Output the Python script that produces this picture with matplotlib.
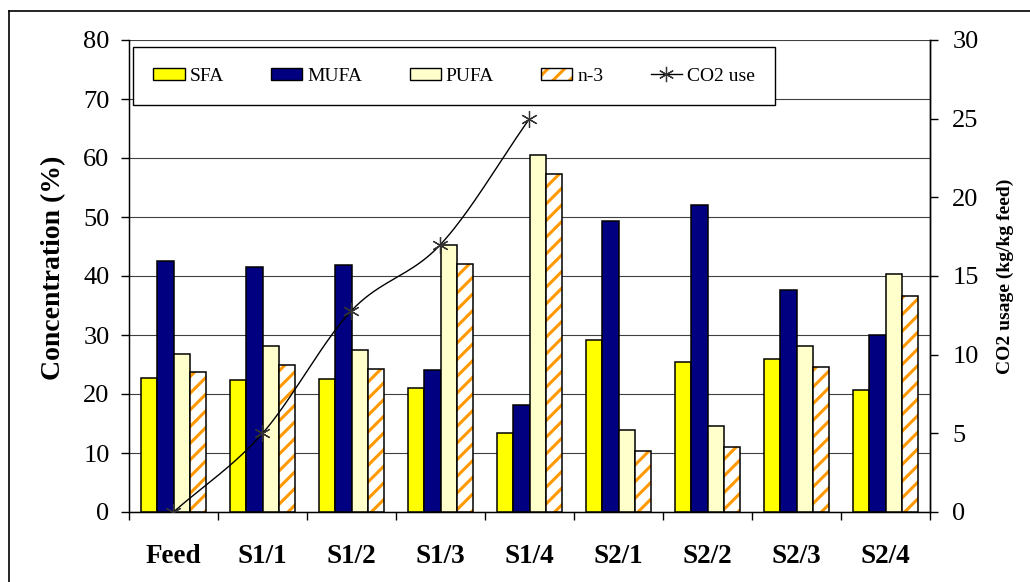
import numpy as np
import matplotlib
matplotlib.use("Agg")
import matplotlib.pyplot as plt
from matplotlib.patches import Patch
from matplotlib.lines import Line2D
from matplotlib.legend_handler import HandlerTuple

categories = ["Feed", "S1/1", "S1/2", "S1/3", "S1/4", "S2/1", "S2/2", "S2/3", "S2/4"]
sfa  = [22.7, 22.3, 22.5, 21.1, 13.4, 29.2, 25.5, 25.9, 20.6]
mufa = [42.6, 41.5, 41.8, 24.1, 18.1, 49.4, 52.0, 37.6, 30.0]
pufa = [26.8, 28.1, 27.5, 45.3, 60.5, 13.9, 14.6, 28.1, 40.3]
n3   = [23.8, 25.0, 24.3, 42.1, 57.3, 10.4, 11.1, 24.6, 36.6]
co2_cats = ["Feed", "S1/1", "S1/2", "S1/3", "S1/4"]
co2_use  = [0.0, 5.0, 12.8, 17.0, 25.0]

left_ticks = list(range(0, 81, 10))
right_ticks = list(range(0, 31, 5))

plt.rcParams['font.family'] = ['Liberation Serif', 'DejaVu Serif']
plt.rcParams['hatch.linewidth'] = 2.2

fig = plt.figure(figsize=(10.30, 5.82), dpi=100)
W, H = 1030, 582
ax = fig.add_axes([129 / W, (H - 512) / H, 801 / W, 472 / H])

x = np.arange(len(categories))
w = 0.184
edge_lw = 1.1

ax.bar(x - 1.5 * w, sfa, w, color="#FFFF00", edgecolor="black", linewidth=edge_lw, zorder=3)
ax.bar(x - 0.5 * w, mufa, w, color="#000080", edgecolor="black", linewidth=edge_lw, zorder=3)
ax.bar(x + 0.5 * w, pufa, w, color="#FFFFCC", edgecolor="black", linewidth=edge_lw, zorder=3)
ax.bar(x + 1.5 * w, n3, w, color="white", edgecolor="#FF9900", hatch="//", linewidth=0, zorder=3)
ax.bar(x + 1.5 * w, n3, w, color="none", edgecolor="black", linewidth=edge_lw, zorder=4)

ax.set_xlim(-0.5, len(categories) - 0.5)
ax.set_ylim(0, 80)
ax.set_yticks(left_ticks)
ax.set_yticklabels([str(t) for t in left_ticks], fontsize=19)
ax.set_xticks(x)
ax.set_xticklabels(categories, fontsize=19.5, fontweight="bold")
ax.set_xticks(np.arange(len(categories) + 1) - 0.5, minor=True)
ax.tick_params(axis="x", which="major", length=0, pad=23)
ax.tick_params(axis="x", which="minor", length=6, width=1, direction="out")
ax.tick_params(axis="y", length=6, width=1, direction="out", pad=8)
ax.yaxis.grid(True, color="#404040", linewidth=0.8)
ax.set_axisbelow(True)
ax.spines["top"].set_visible(False)
for s in ["left", "bottom", "right"]:
    ax.spines[s].set_linewidth(1.0)
ax.set_ylabel("Concentration (%)", fontsize=20, fontweight="bold")
ax.yaxis.set_label_coords(-0.078, 0.517)

ax2 = ax.twinx()
ax2.set_ylim(0, 30)
ax2.set_yticks(right_ticks)
ax2.set_yticklabels([str(t) for t in right_ticks], fontsize=19)
ax2.tick_params(axis="y", length=6, width=1, direction="out", pad=10)
ax2.spines["top"].set_visible(False)
ax2.spines["right"].set_linewidth(1.0)
ax2.set_ylabel("CO2 usage (kg/kg feed)", fontsize=14, fontweight="bold", labelpad=13)


def catmull_rom(xs, ys, n=40):
    pts = np.column_stack([xs, ys]).astype(float)
    P = np.vstack([2 * pts[0] - pts[1], pts, 2 * pts[-1] - pts[-2]])
    out = []
    t = np.linspace(0, 1, n)[:, None]
    for i in range(1, len(P) - 2):
        p0, p1, p2, p3 = P[i - 1], P[i], P[i + 1], P[i + 2]
        seg = 0.5 * ((2 * p1) + (-p0 + p2) * t + (2 * p0 - 5 * p1 + 4 * p2 - p3) * t ** 2
                     + (-p0 + 3 * p1 - 3 * p2 + p3) * t ** 3)
        out.append(seg)
    return np.vstack(out)


co2_x = np.array([categories.index(c) for c in co2_cats], dtype=float)
curve = catmull_rom(co2_x, co2_use)
ax2.plot(curve[:, 0], curve[:, 1], color="black", linewidth=1.0, zorder=5)
ax2.plot(co2_x, co2_use, linestyle="none", marker=(6, 2, 0), markersize=12,
         markeredgecolor="#333333", markeredgewidth=0.9, zorder=6)

h_sfa = Patch(facecolor="#FFFF00", edgecolor="black", linewidth=1.0)
h_mufa = Patch(facecolor="#000080", edgecolor="black", linewidth=1.0)
h_pufa = Patch(facecolor="#FFFFCC", edgecolor="black", linewidth=1.0)
h_n3 = (Patch(facecolor="white", edgecolor="#FF9900", hatch="//", linewidth=0),
        Patch(facecolor="none", edgecolor="black", linewidth=1.0))
h_co2 = Line2D([], [], color="black", linewidth=1.0, marker=(6, 2, 0), markersize=11,
               markeredgecolor="#333333", markeredgewidth=0.9)

bx0 = (133 - 129) / 801
by0 = (512 - 105) / 472
bw = (775 - 133) / 801
bh = 61 / 472
leg = ax2.legend([h_sfa, h_mufa, h_pufa, h_n3, h_co2],
                 ["SFA", "MUFA", "PUFA", "n-3", "CO2 use"],
                 handler_map={tuple: HandlerTuple(ndivide=1, pad=0)},
                 ncol=5, mode="expand", loc="lower left",
                 bbox_to_anchor=(bx0, by0, bw, bh), borderaxespad=0,
                 fontsize=14, handlelength=1.6, handleheight=0.6,
                 handletextpad=0.25, borderpad=1.05, fancybox=False,
                 framealpha=1, edgecolor="black")
leg.get_frame().set_linewidth(1.0)
leg.set_zorder(10)

# outer border of the chart area
fig.add_artist(Line2D([9 / W, 1.0], [1 - 11 / H, 1 - 11 / H], color="black", linewidth=1.2))
fig.add_artist(Line2D([9 / W, 9 / W], [0.0, 1 - 11 / H], color="black", linewidth=1.2))

fig.savefig("out.png", dpi=100)
